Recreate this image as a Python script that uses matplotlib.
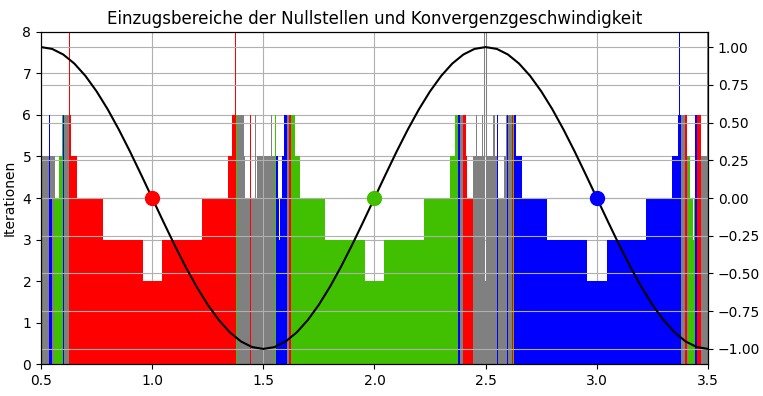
import numpy as np
import matplotlib
matplotlib.use('Agg')
import matplotlib.pyplot as plt

# Farben je Nullstelle (n = keine der drei Nullstellen)
colors = {'r': 'red', 'g': '#40c000', 'b': 'blue', 'n': 'gray'}

left_edge = [
    (0.500, 0.563, 5, 'n'),
    (0.536, 0.551, 4, 'b'),
    (0.536, 0.539, 6, 'b'),
    (0.549, 0.551, 6, 'b'),
    (0.558, 0.596, 4, 'g'),
    (0.582, 0.596, 5, 'g'),
    (0.596, 0.598, 6, 'g'),
    (0.598, 0.603, 6, 'b'),
    (0.603, 0.627, 6, 'n'),
]

basin_1 = [
    (0.627, 0.635, 6, 'r'),
    (0.6275, 0.6295, 12, 'r'),
    (0.635, 0.663, 5, 'r'),
    (0.663, 0.729, 4, 'r'),
    (0.731, 0.777, 4, 'r'),
    (0.777, 0.958, 3, 'r'),
    (0.958, 1.045, 2, 'r'),
    (1.045, 1.223, 3, 'r'),
    (1.223, 1.340, 4, 'r'),
    (1.340, 1.361, 5, 'r'),
    (1.361, 1.377, 6, 'r'),
    (1.3735, 1.3755, 12, 'r'),
]

chaos_15 = [
    (1.377, 1.3825, 6, 'g'),
    (1.3825, 1.411, 6, 'n'),
    (1.411, 1.414, 6, 'r'),
    (1.414, 1.4175, 5, 'n'),
    (1.4175, 1.429, 4, 'n'),
    (1.429, 1.4315, 3, 'n'),
    (1.4315, 1.440, 4, 'n'),
    (1.440, 1.4445, 6, 'r'),
    (1.4445, 1.4625, 4, 'n'),
    (1.4625, 1.467, 6, 'n'),
    (1.467, 1.470, 4, 'n'),
    (1.470, 1.498, 5, 'n'),
    (1.502, 1.535, 5, 'n'),
    (1.535, 1.539, 6, 'n'),
    (1.539, 1.5525, 5, 'n'),
    (1.5525, 1.5555, 6, 'g'),
    (1.5555, 1.5645, 5, 'b'),
    (1.5645, 1.571, 4, 'b'),
    (1.571, 1.573, 3, 'b'),
    (1.573, 1.585, 4, 'b'),
    (1.585, 1.5945, 5, 'b'),
    (1.5945, 1.6045, 6, 'b'),
    (1.6045, 1.617, 6, 'n'),
    (1.617, 1.6245, 6, 'r'),
]

basin_2 = [
    (1.6245, 1.6425, 6, 'g'),
    (1.628, 1.630, 12, 'g'),
    (1.6425, 1.665, 5, 'g'),
    (1.665, 1.777, 4, 'g'),
    (1.777, 1.958, 3, 'g'),
    (1.958, 2.045, 2, 'g'),
    (2.045, 2.223, 3, 'g'),
    (2.223, 2.340, 4, 'g'),
    (2.340, 2.362, 5, 'g'),
    (2.362, 2.377, 6, 'g'),
    (2.3755, 2.3775, 12, 'g'),
]

chaos_25 = [
    (2.377, 2.385, 6, 'b'),
    (2.385, 2.400, 6, 'n'),
    (2.400, 2.410, 6, 'r'),
    (2.410, 2.4175, 5, 'r'),
    (2.4175, 2.441, 4, 'r'),
    (2.441, 2.4435, 6, 'g'),
    (2.4435, 2.455, 5, 'n'),
    (2.455, 2.459, 6, 'n'),
    (2.459, 2.463, 4, 'n'),
    (2.463, 2.484, 5, 'n'),
    (2.484, 2.487, 6, 'n'),
    (2.487, 2.4935, 5, 'n'),
    (2.4935, 2.4985, 12, 'n'),
    (2.4985, 2.5015, 2, 'n'),
    (2.5015, 2.5065, 12, 'n'),
    (2.5065, 2.534, 5, 'n'),
    (2.534, 2.542, 6, 'n'),
    (2.542, 2.549, 5, 'n'),
    (2.549, 2.557, 6, 'b'),
    (2.557, 2.568, 4, 'n'),
    (2.568, 2.570, 3, 'n'),
    (2.570, 2.584, 4, 'n'),
    (2.584, 2.592, 5, 'n'),
    (2.592, 2.597, 6, 'n'),
    (2.597, 2.600, 6, 'b'),
    (2.600, 2.620, 6, 'n'),
    (2.620, 2.623, 6, 'r'),
    (2.623, 2.6255, 6, 'g'),
]

basin_3 = [
    (2.6255, 2.635, 6, 'b'),
    (2.6275, 2.6295, 12, 'b'),
    (2.635, 2.663, 5, 'b'),
    (2.663, 2.777, 4, 'b'),
    (2.777, 2.958, 3, 'b'),
    (2.958, 3.045, 2, 'b'),
    (3.045, 3.223, 3, 'b'),
    (3.223, 3.340, 4, 'b'),
    (3.340, 3.367, 5, 'b'),
    (3.367, 3.377, 6, 'b'),
    (3.371, 3.373, 12, 'b'),
]

right_edge = [
    (3.377, 3.3966, 6, 'n'),
    (3.3966, 3.407, 6, 'r'),
    (3.407, 3.4115, 5, 'n'),
    (3.4115, 3.419, 5, 'g'),
    (3.419, 3.434, 4, 'g'),
    (3.434, 3.436, 3, 'g'),
    (3.436, 3.4416, 4, 'g'),
    (3.4416, 3.449, 6, 'b'),
    (3.449, 3.4665, 6, 'r'),
    (3.4665, 3.496, 5, 'n'),
    (3.496, 3.500, 12, 'n'),
]

curve_x = np.linspace(0.5, 3.5, 61)
curve_y = [1.000, 0.988, 0.951, 0.891, 0.809, 0.707, 0.588, 0.454, 0.309, 0.156,
           0.000, -0.156, -0.309, -0.454, -0.588, -0.707, -0.809, -0.891, -0.951, -0.988,
           -1.000, -0.988, -0.951, -0.891, -0.809, -0.707, -0.588, -0.454, -0.309, -0.156,
           0.000, 0.156, 0.309, 0.454, 0.588, 0.707, 0.809, 0.891, 0.951, 0.988,
           1.000, 0.988, 0.951, 0.891, 0.809, 0.707, 0.588, 0.454, 0.309, 0.156,
           0.000, -0.156, -0.309, -0.454, -0.588, -0.707, -0.809, -0.891, -0.951, -0.988,
           -1.000]

roots = [1.0, 2.0, 3.0]
root_keys = ['r', 'g', 'b']

segments = left_edge + basin_1 + chaos_15 + basin_2 + chaos_25 + basin_3 + right_edge
x0 = [s[0] for s in segments]
widths = [s[1] - s[0] for s in segments]
iters = [s[2] for s in segments]
cols = [colors[s[3]] for s in segments]

fig = plt.figure(figsize=(7.63, 3.96), dpi=100)
ax = fig.add_axes([0.0537, 0.0808, 0.8742, 0.8384])
ax.bar(x0, iters, width=widths, align='edge', color=cols, linewidth=0)
ax.set_xlim(0.5, 3.5)
ax.set_ylim(0, 8)
ax.set_axisbelow(True)
ax.grid(True)
ax.set_xlabel('x')
ax.set_ylabel('Iterationen')
ax.set_title('Einzugsbereiche der Nullstellen und Konvergenzgeschwindigkeit')

ax2 = ax.twinx()
ax2.plot(curve_x, curve_y, color='black', lw=1.5)
for r, k in zip(roots, root_keys):
    ax2.plot(r, 0, 'o', color=colors[k], markersize=10)
ax2.set_ylim(-1.1, 1.1)
ax2.set_ylabel('f')
ax2.grid(True)

fig.savefig('out.png', dpi=100)
